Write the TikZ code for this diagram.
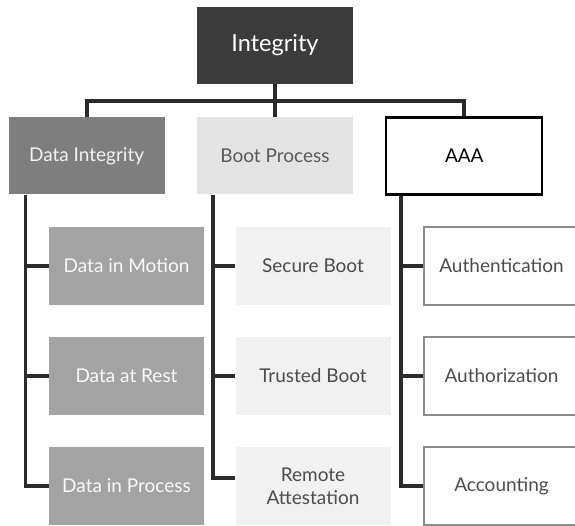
\documentclass[tikz,border=0pt]{standalone}
\usepackage{fontspec}
\setmainfont{Lato}
\usepackage{tikz}
\usetikzlibrary{
    positioning,
    calc
}
\definecolor{tgDark}{RGB}{60,60,60}
\definecolor{tgMid}{RGB}{126,126,126}
\definecolor{tgSoft}{RGB}{163,163,163}
\definecolor{tgPale}{RGB}{227,227,227}
\definecolor{tgFaint}{RGB}{241,241,241}
\definecolor{tgLine}{RGB}{43,43,43}
\tikzset{
  box/.style    = {minimum width=156pt, minimum height=77pt, inner sep=0pt,
                   align=center, font=\fontsize{19}{23}\selectfont},
  rootbox/.style= {box, fill=tgDark, text=white,
                   font=\fontsize{23.5}{28}\selectfont},
  dibox/.style  = {box, fill=tgMid, text=white!90!gray},
  bpbox/.style  = {box, fill=tgPale, text=black!65},
  aaabox/.style = {box, draw=black, line width=2.2pt, fill=white, text=black},
  dsub/.style   = {box, minimum width=155pt, minimum height=78pt,
                   fill=tgSoft, text=white!95!gray},
  bsub/.style   = {box, minimum width=155pt, minimum height=78pt,
                   fill=tgFaint, text=black!70},
  asub/.style   = {box, minimum width=155pt, minimum height=78pt,
                   draw=black!45, line width=1.6pt, fill=white, text=black!70},
  link/.style   = {draw=tgLine, line width=3.8pt, line join=miter}
}

\begin{document}
\begin{tikzpicture}[x=1pt, y=-1pt]
  \useasboundingbox (0,0) rectangle (575,525);

  % root and first level
  \node[rootbox] (integ) at (275,45.5) {Integrity};
  \node[bpbox, below=33pt of integ] (bp) {Boot Process};
  \node[dibox, left=32pt of bp] (di) {Data Integrity};
  \node[aaabox, right=32pt of bp] (aaa) {AAA};

  % second level, one column per branch
  \node[dsub] (dm) at (126.5,266) {Data in Motion};
  \node[dsub] (dr) at (126.5,376) {Data at Rest};
  \node[dsub] (dp) at (126.5,486) {Data in Process};

  \node[bsub] (sb) at (313,266) {Secure Boot};
  \node[bsub] (tb) at (313,376) {Trusted Boot};
  \node[bsub] (ra) at (313,486) {Remote\\Attestation};

  \node[asub] (aun) at (501.5,266) {Authentication};
  \node[asub] (auz) at (501.5,376) {Authorization};
  \node[asub] (acc) at (501.5,486) {Accounting};

  % tree connectors
  \draw[link] (integ.south) -- ++(0,16.5) coordinate (bus);
  \draw[link] (bus) -| (di.north);
  \draw[link] (bus) -| (aaa.north);
  \draw[link] (bus) -- (bp.north);

  \draw[link] ([xshift=17pt]di.south west) |- (dm.west);
  \draw[link] ([xshift=17pt]di.south west) |- (dr.west);
  \draw[link] ([xshift=17pt]di.south west) |- (dp.west);

  \draw[link] ([xshift=16pt]bp.south west) |- (sb.west);
  \draw[link] ([xshift=16pt]bp.south west) |- (tb.west);
  \draw[link] ([xshift=16pt]bp.south west) |- ([yshift=8pt]ra.west);

  \draw[link] ([xshift=16pt]aaa.south west) |- (aun.west);
  \draw[link] ([xshift=16pt]aaa.south west) |- (auz.west);
  \draw[link] ([xshift=16pt]aaa.south west) |- (acc.west);
\end{tikzpicture}
\end{document}
